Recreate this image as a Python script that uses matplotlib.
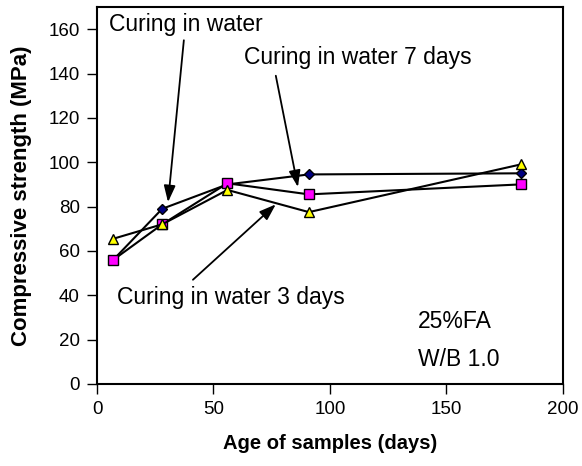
import matplotlib.pyplot as plt
import numpy as np

plt.rcParams['font.family'] = ['Liberation Sans', 'DejaVu Sans']

# edad de las muestras (días)
dias = [7, 28, 56, 91, 182]

# resistencia a compresión (MPa)
agua = [56, 79, 90, 94.5, 95]
agua_7 = [56, 72, 90.5, 85.5, 90]
agua_3 = [65.5, 72, 87.5, 77.5, 99]

fig = plt.figure(figsize=(5.82, 4.66), dpi=100, facecolor='white')
ax = fig.add_axes([0.1667, 0.176, 0.8, 0.809])

ax.plot(dias, agua, color='black', lw=1.5, marker='D', ms=5,
        mfc='#000080', mec='black', mew=1, zorder=3)
ax.plot(dias, agua_7, color='black', lw=1.5, marker='s', ms=6.5,
        mfc='#ff00ff', mec='black', mew=1, zorder=3)
ax.plot(dias, agua_3, color='black', lw=1.5, marker='^', ms=7,
        mfc='#ffff00', mec='black', mew=1, zorder=3)

ax.set_xlim(0, 200)
ax.set_ylim(0, 170)
ax.set_xticks(np.arange(0, 201, 50))
ax.set_yticks(np.arange(0, 161, 20))
ax.tick_params(direction='out', length=7.5, width=1, labelsize=13.5, colors='black', pad=5)
for s in ax.spines.values():
    s.set_linewidth(1.5)

ax.set_xlabel('Age of samples (days)', fontsize=14.5, fontweight='bold', labelpad=11)
ax.set_ylabel('Compressive strength (MPa)', fontsize=16, fontweight='bold', labelpad=12)

# flechas
flecha = dict(arrowstyle='-|>,head_length=1.0,head_width=0.35', color='black', lw=1.3,
              shrinkA=0, shrinkB=0)
ax.annotate('', xy=(30.5, 82), xytext=(37.3, 155), arrowprops=flecha)
ax.annotate('', xy=(86.3, 88.8), xytext=(76.8, 139), arrowprops=flecha)
ax.annotate('', xy=(76.8, 81), xytext=(41.2, 47), arrowprops=flecha)

# textos
ax.text(5.2, 162, 'Curing in water', fontsize=16.5, va='center')
ax.text(63, 147, 'Curing in water 7 days', fontsize=16.5, va='center')
ax.text(8.6, 39, 'Curing in water 3 days', fontsize=16.5, va='center')
ax.text(137.8, 28, '25%FA', fontsize=16.5, va='center')
ax.text(137.8, 11, 'W/B 1.0', fontsize=16.5, va='center')

plt.savefig('out.png', dpi=100, facecolor='white')
